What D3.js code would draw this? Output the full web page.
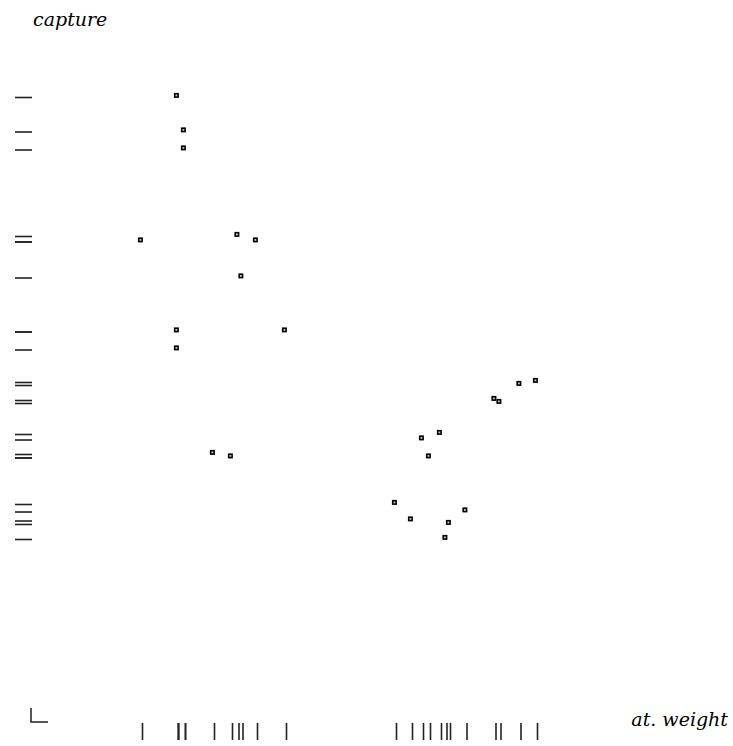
<!DOCTYPE html>
<html>
<head>
<meta charset="utf-8">
<script src="https://cdn.jsdelivr.net/npm/d3@7"></script>
<style>
  body { margin: 0; background: #fff; }
  svg { display: block; }
  .lbl { font-family: "DejaVu Serif", serif; font-style: italic; font-size: 19px; fill: #000; }
</style>
</head>
<body>
<div class="graph"></div>
<script>
// atomic weight (x) and capture (y)
var atWeight = [15.7, 17.1, 17.1, 8.5, 27.8, 31.5, 28.6, 15.7, 37.3, 15.7, 22.9, 26.5,
                68.3, 64.7, 66.1, 59.3, 73.4, 62.5, 70.1, 69.4, 84.2, 87.5, 80.2, 79.2];
var capture  = [92.5, 85.6, 82.0, 63.6, 64.7, 63.6, 56.4, 45.6, 45.6, 42.0, 21.1, 20.4,
                25.1, 24.0, 20.4, 11.1, 9.6, 7.8, 7.1, 4.1, 34.9, 35.5, 31.3, 31.9];
var axisTitles = ['capture', 'at. weight'];

var width = 733, height = 746;

var svg = d3.select('div.graph')
    .append('svg')
        .attr('width', width)
        .attr('height', height);

var x = d3.scaleLinear()
    .domain([0, 120])
    .range([100, 700]);

var y = d3.scaleLinear()
    .domain([0, 100])
    .range([560, 60]);

var data = atWeight.map((w, i) => ({w: w, c: capture[i]}));

// rug on the left: one dash per point
svg.append('g')
    .selectAll('line')
    .data(data)
    .enter()
    .append('line')
        .attr('x1', 15)
        .attr('x2', 32)
        .attr('y1', (d) => y(d.c))
        .attr('y2', (d) => y(d.c))
        .style('stroke', '#222')
        .style('stroke-width', 1.6);

// rug along the bottom
svg.append('g')
    .selectAll('line')
    .data(data)
    .enter()
    .append('line')
        .attr('x1', (d) => x(d.w))
        .attr('x2', (d) => x(d.w))
        .attr('y1', 723)
        .attr('y2', 740)
        .style('stroke', '#222')
        .style('stroke-width', 1.6);

// corner mark
svg.append('path')
    .attr('d', 'M31,708V722H48')
    .style('fill', 'none')
    .style('stroke', '#222')
    .style('stroke-width', 1.5);

// points
svg.append('g')
    .selectAll('rect')
    .data(data)
    .enter()
    .append('rect')
        .attr('x', (d) => x(d.w) - 3.8)
        .attr('y', (d) => y(d.c) - 3.8)
        .attr('width', 3.4)
        .attr('height', 3.4)
        .style('fill', '#ccc')
        .style('stroke', '#000')
        .style('stroke-width', 1.6);

svg.append('text')
    .attr('class', 'lbl')
    .attr('x', 33)
    .attr('y', 26)
    .text(axisTitles[0]);

svg.append('text')
    .attr('class', 'lbl')
    .attr('x', 728)
    .attr('y', 726)
    .attr('text-anchor', 'end')
    .text(axisTitles[1]);
</script>
</body>
</html>
